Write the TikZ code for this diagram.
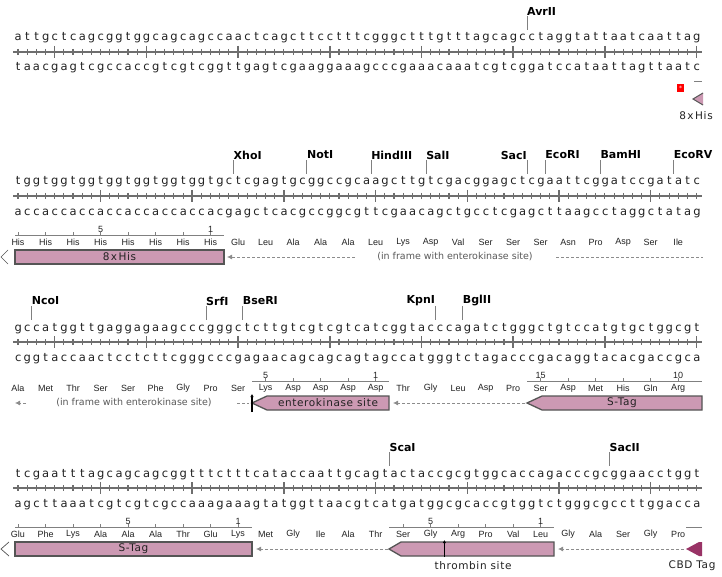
\documentclass[tikz,border=0pt]{standalone}
\usepackage{fontspec}
\setmainfont{DejaVu Sans}
\newfontfamily\aafont{Liberation Sans}
\newfontfamily\featfont[LetterSpace=6]{DejaVu Sans}
\usetikzlibrary{arrows.meta}

\definecolor{seqcol}{HTML}{222222}
\definecolor{rulercol}{HTML}{6E6E6E}
\definecolor{featpink}{HTML}{CC99B3}
\definecolor{featedge}{HTML}{555555}
\definecolor{cbdpurple}{HTML}{993366}
\definecolor{dashgray}{HTML}{8C8C8C}
\definecolor{framegray}{HTML}{5A5A5A}

% one fixed-width box per base
\newlength\bw
\setlength\bw{9.17pt}
\def\baseloop#1{\ifx#1\relax\else\makebox[\bw][c]{#1}\expandafter\baseloop\fi}
\newcommand\bases[1]{\baseloop#1\relax}

\begin{document}
\begin{tikzpicture}[x=1pt,y=-1pt,
  every node/.style={inner sep=0pt},
  seqtext/.style={anchor=base west,font=\fontsize{11.5}{12}\selectfont,text=seqcol},
  ruler/.style={draw=rulercol,line width=2.4pt},
  minortick/.style={draw=rulercol,line width=1.1pt},
  majortick/.style={draw=rulercol,line width=1.5pt},
  sitelabel/.style={anchor=west,font=\fontsize{11}{12}\selectfont\bfseries,text=black},
  siteleft/.style={sitelabel,anchor=east},
  siteline/.style={draw=gray,line width=0.8pt},
  aalabel/.style={font=\aafont\fontsize{9}{10}\selectfont,text=seqcol},
  numlabel/.style={font=\aafont\fontsize{9}{10}\selectfont,text=seqcol},
  numruler/.style={draw=gray,line width=0.8pt},
  featbox/.style={fill=featpink,draw=featedge,line width=1.3pt},
  featlabel/.style={font=\featfont\fontsize{10.5}{12}\selectfont,text=seqcol},
  framelabel/.style={font=\fontsize{9.5}{11}\selectfont,text=framegray},
  dashedarrow/.style={draw=dashgray,line width=0.8pt,dash pattern=on 3pt off 2pt,-{Latex[length=5pt,width=5pt]}},
  dashedline/.style={draw=dashgray,line width=0.8pt,dash pattern=on 3pt off 2pt},
  cutmark/.style={line width=1.8pt,-{Latex[length=3pt,width=3.5pt]}},
  chevron/.style={draw=featedge,line width=0.7pt}]
\useasboundingbox[fill=white] (0,0) rectangle (722,577);

% ---- rulers of all four rows
\foreach \y/\m in {52/4, 196/9, 342/4, 488/9} {
  \draw[ruler] (13.4,\y) -- (701.8,\y);
  \foreach \i in {0,...,74} {
    \pgfmathtruncatemacro\r{mod(\i+10-\m,10)}
    \ifnum\r=0
      \draw[majortick] ({18+9.17*\i},\y-6) -- ++(0,12);
    \else
      \draw[minortick] ({18+9.17*\i},\y-3) -- ++(0,6);
    \fi
  }
}

% ---- row 1
\node[seqtext] (topA) at (13.4,41) {\bases{attgctcagc ggtggcagca gccaactcag cttcctttcg ggctttgttt agcagcctag gtattaatca attag}};
\node[seqtext] (botA) at (13.4,71) {\bases{taacgagtcg ccaccgtcgt cggttgagtc gaaggaaagc ccgaaacaaa tcgtcggatc cataattagt taatc}};
\foreach \name/\i in {AvrII/55} {
  \node[sitelabel] (site\name) at ({18+9.17*(\i+0.5)},11) {\name};
  \draw[siteline] ({18+9.17*(\i+0.5)},16) -- ++(0,14);
}
\draw[numruler] (694,81) -- (702,81);
\fill[red] (677,84) rectangle (684,92);
\node[font=\fontsize{6}{6}\selectfont,text=white] (stopA) at (680.5,88.5) {*};
\fill[featpink] (693,99) -- (703,93) -- (703,105) -- cycle;
\draw[chevron,line width=1pt] (703,93) -- (693,99) -- (703,105);
\node[featlabel] (hisA) at (696,116) {8\hspace{1.5pt}x\hspace{1.5pt}His};

% ---- row 2
\node[seqtext] (topB) at (13.4,185) {\bases{tgg tgg tgg tgg tgg tgg tgg tg ctcgag t gcggccgc aagctt gtcgac g gagctc gaattc ggatcc gatatc}};
\node[seqtext] (botB) at (13.4,215) {\bases{acc acc acc acc acc acc acc ac gagctc a cgccggcg ttcgaa cagctg c ctcgag cttaag cctagg ctatag}};
\foreach \name/\i in {XhoI/23, NotI/31, HindIII/38, SalI/44, EcoRI/57, BamHI/63, EcoRV/71} {
  \node[sitelabel] (site\name) at ({18+9.17*(\i+0.5)},155) {\name};
  \draw[siteline] ({18+9.17*(\i+0.5)},160) -- ++(0,14);
}
\node[siteleft] (siteSacI) at ({18+9.17*55.5},155) {SacI};
\draw[siteline] ({18+9.17*55.5},160) -- ++(0,14);
\foreach \aa [count=\k from 0] in {His,His,His,His,His,His,His,His,Glu,Leu,Ala,Ala,Ala,Leu,Lys,Asp,Val,Ser,Ser,Ser,Asn,Pro,Asp,Ser,Ile}
  \node[aalabel] (aaB\k) at ({18+27.51*\k},242) {\aa};
\draw[numruler] (15,235) -- (224,235);
\foreach \c in {0,3,...,21}
  \draw[numruler] ({18+9.17*\c},235) -- ++(0,-3);
\node[numlabel] (numB5) at ({18+9.17*9},229) {5};
\node[numlabel] (numB1) at ({18+9.17*21},229) {1};
\draw[chevron] (8,250) -- (1,257) -- (8,264);
\draw[featbox] (15,250) rectangle (224,264);
\node[featlabel] (hisB) at (119.5,257) {8\hspace{1.5pt}x\hspace{1.5pt}His};
\draw[dashedarrow] (355,257) -- (227,257);
\node[framelabel] (frameB) at (455,257) {(in frame with enterokinase site)};
\draw[dashedline] (556,257) -- (703,257);

% ---- row 3
\node[seqtext] (topC) at (13.4,331) {\bases{gccatggttg aggagaagcc cgggctcttg tcgtcgtcat cggtacccag atctgggctg tccatgtgct ggcgt}};
\node[seqtext] (botC) at (13.4,361) {\bases{cggtaccaac tcctcttcgg gcccgagaac agcagcagta gccatgggtc tagacccgac aggtacacga ccgca}};
\foreach \name/\i in {NcoI/1, SrfI/20, BseRI/24, BglII/48} {
  \node[sitelabel] (site\name) at ({18+9.17*(\i+0.5)},301) {\name};
  \draw[siteline] ({18+9.17*(\i+0.5)},306) -- ++(0,14);
}
\node[siteleft] (siteKpnI) at ({18+9.17*45.5},301) {KpnI};
\draw[siteline] ({18+9.17*45.5},306) -- ++(0,14);
\foreach \aa [count=\k from 0] in {Ala,Met,Thr,Ser,Ser,Phe,Gly,Pro,Ser,Lys,Asp,Asp,Asp,Asp,Thr,Gly,Leu,Asp,Pro,Ser,Asp,Met,His,Gln,Arg}
  \node[aalabel] (aaC\k) at ({18+27.51*\k},388) {\aa};
\draw[numruler] (252,381) -- (389,381);
\foreach \c in {27,30,...,39}
  \draw[numruler] ({18+9.17*\c},381) -- ++(0,-3);
\node[numlabel] (numC5) at ({18+9.17*27},375) {5};
\node[numlabel] (numC1) at ({18+9.17*39},375) {1};
\draw[numruler] (527,381) -- (702,381);
\foreach \c in {57,60,...,72}
  \draw[numruler] ({18+9.17*\c},381) -- ++(0,-3);
\node[numlabel] (numC15) at ({18+9.17*57},375) {15};
\node[numlabel] (numC10) at ({18+9.17*72},375) {10};
\draw[dashedarrow] (26,403) -- (15,403);
\node[framelabel] (frameC) at (134,403) {(in frame with enterokinase site)};
\draw[dashedline] (237,403) -- (249,403);
\draw[featbox] (252,403) -- (267,396) -- (389,396) -- (389,410) -- (267,410) -- cycle;
\node[featlabel] (entC) at (328,403) {enterokinase site};
\draw[cutmark] (252,412) -- (252,394);
\draw[dashedarrow] (525,403) -- (393,403);
\draw[featbox] (527,403) -- (542,396) -- (702,396) -- (702,410) -- (542,410) -- cycle;
\node[featlabel] (stagC) at (622,403) {S-Tag};

% ---- row 4
\node[seqtext] (topD) at (13.4,477) {\bases{tcgaatttag cagcagcggt ttctttcata ccaattgcag tactaccgcg tggcaccaga cccgcggaac ctggt}};
\node[seqtext] (botD) at (13.4,507) {\bases{agcttaaatc gtcgtcgcca aagaaagtat ggttaacgtc atgatggcgc accgtggtct gggcgccttg gacca}};
\foreach \name/\i in {ScaI/40, SacII/64} {
  \node[sitelabel] (site\name) at ({18+9.17*(\i+0.5)},447) {\name};
  \draw[siteline] ({18+9.17*(\i+0.5)},452) -- ++(0,14);
}
\foreach \aa [count=\k from 0] in {Glu,Phe,Lys,Ala,Ala,Ala,Thr,Glu,Lys,Met,Gly,Ile,Ala,Thr,Ser,Gly,Arg,Pro,Val,Leu,Gly,Ala,Ser,Gly,Pro}
  \node[aalabel] (aaD\k) at ({18+27.51*\k},534) {\aa};
\draw[numruler] (15,527) -- (252,527);
\foreach \c in {0,3,...,24}
  \draw[numruler] ({18+9.17*\c},527) -- ++(0,-3);
\node[numlabel] (numD5) at ({18+9.17*12},521) {5};
\node[numlabel] (numD1) at ({18+9.17*24},521) {1};
\draw[numruler] (389,527) -- (554,527);
\foreach \c in {42,45,...,57}
  \draw[numruler] ({18+9.17*\c},527) -- ++(0,-3);
\node[numlabel] (numDt5) at ({18+9.17*45},521) {5};
\node[numlabel] (numDt1) at ({18+9.17*57},521) {1};
\draw[numruler] (686,527) -- (702,527);
\draw[chevron] (9,542) -- (1,549) -- (9,556);
\draw[featbox] (15,542) rectangle (252,556);
\node[featlabel] (stagD) at (133.5,549) {S-Tag};
\draw[dashedarrow] (388,549) -- (256,549);
\draw[featbox] (389,549) -- (401,542) -- (554,542) -- (554,556) -- (401,556) -- cycle;
\draw[cutmark] (444.4,557) -- (444.4,540);
\node[featlabel] (thromD) at (473,566) {thrombin site};
\draw[dashedarrow] (684,549) -- (558,549);
\fill[cbdpurple] (686,549) -- (699,542) -- (702,542) -- (702,556) -- (699,556) -- cycle;
\node[featlabel] (cbdD) at (692,566) {CBD Tag};
\end{tikzpicture}
\end{document}
